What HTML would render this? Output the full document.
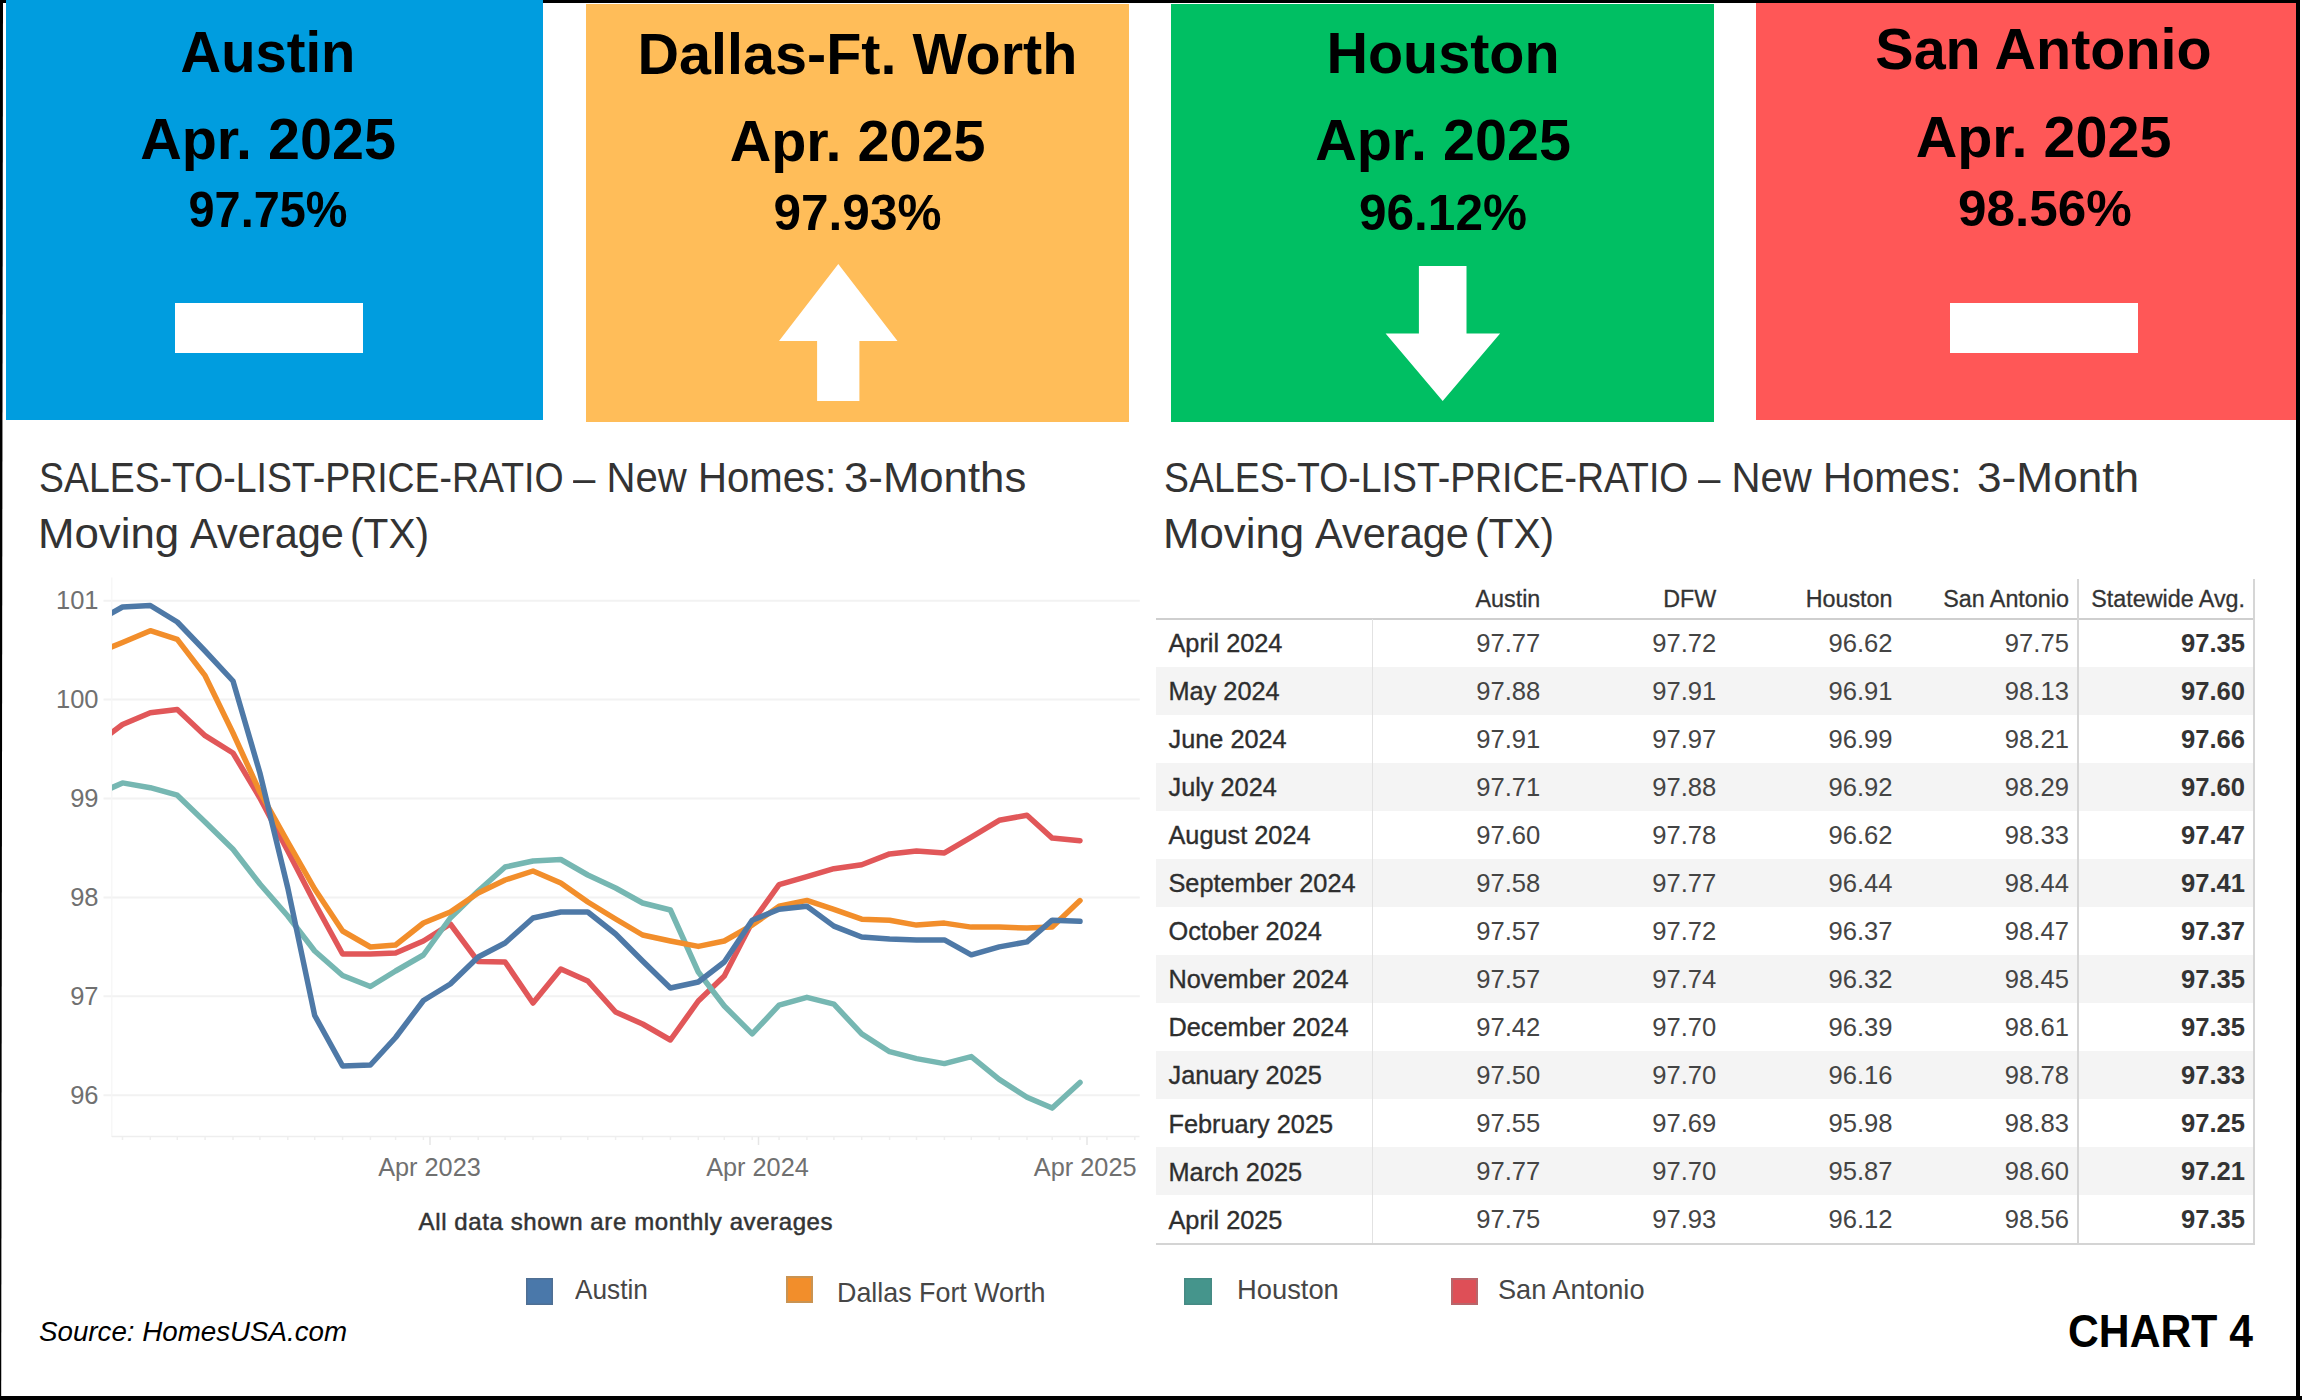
<!DOCTYPE html>
<html><head><meta charset="utf-8"><title>Chart 4</title>
<style>
*{margin:0;padding:0;box-sizing:border-box}
html,body{width:2302px;height:1400px;overflow:hidden;background:#fff}
body{position:relative;font-family:"Liberation Sans",sans-serif}
.a{position:absolute}
.t{position:absolute;white-space:nowrap;line-height:1}
</style></head><body>
<div class="a" style="left:0px;top:0px;width:2300px;height:3px;background:#000;"></div>
<div class="a" style="left:0;top:0;width:4px;height:1400px;background:#000;clip-path:polygon(0 0,3px 0,1.2px 100%,0 100%)"></div>
<div class="a" style="left:2296px;top:0px;width:4px;height:1400px;background:#000;"></div>
<div class="a" style="left:0px;top:1396px;width:2302px;height:4px;background:#000;"></div>
<div class="a" style="left:6px;top:0px;width:537px;height:420px;background:#009DDF;"></div>
<div class="a" style="left:586px;top:4px;width:543px;height:418px;background:#FFBD59;"></div>
<div class="a" style="left:1171px;top:4px;width:543px;height:418px;background:#00BF63;"></div>
<div class="a" style="left:1756px;top:3px;width:540px;height:417px;background:#FF5757;"></div>
<div class="t" style="left:38.0px;width:460px;text-align:center;top:24.2px;font-size:57.5px;font-weight:700;color:#000;font-style:normal;letter-spacing:0px;transform:scaleX(0.977);transform-origin:50% 0;">Austin</div>
<div class="t" style="left:38.0px;width:460px;text-align:center;top:110.6px;font-size:57.5px;font-weight:700;color:#000;font-style:normal;letter-spacing:0px;transform-origin:50% 0;">Apr. 2025</div>
<div class="t" style="left:38.0px;width:460px;text-align:center;top:185.1px;font-size:49.5px;font-weight:700;color:#000;font-style:normal;letter-spacing:0px;transform:scaleX(0.946);transform-origin:50% 0;">97.75%</div>
<div class="t" style="left:627.5px;width:460px;text-align:center;top:25.5px;font-size:57.5px;font-weight:700;color:#000;font-style:normal;letter-spacing:0px;transform-origin:50% 0;">Dallas-Ft. Worth</div>
<div class="t" style="left:627.5px;width:460px;text-align:center;top:113.1px;font-size:57.5px;font-weight:700;color:#000;font-style:normal;letter-spacing:0px;transform-origin:50% 0;">Apr. 2025</div>
<div class="t" style="left:627.5px;width:460px;text-align:center;top:187.6px;font-size:49.5px;font-weight:700;color:#000;font-style:normal;letter-spacing:0px;transform-origin:50% 0;">97.93%</div>
<div class="t" style="left:1213.0px;width:460px;text-align:center;top:25.2px;font-size:57.5px;font-weight:700;color:#000;font-style:normal;letter-spacing:0px;transform-origin:50% 0;">Houston</div>
<div class="t" style="left:1213.0px;width:460px;text-align:center;top:112.3px;font-size:57.5px;font-weight:700;color:#000;font-style:normal;letter-spacing:0px;transform-origin:50% 0;">Apr. 2025</div>
<div class="t" style="left:1213.0px;width:460px;text-align:center;top:188.1px;font-size:49.5px;font-weight:700;color:#000;font-style:normal;letter-spacing:0px;transform-origin:50% 0;">96.12%</div>
<div class="t" style="left:1813.5px;width:460px;text-align:center;top:21.3px;font-size:57.5px;font-weight:700;color:#000;font-style:normal;letter-spacing:0px;transform-origin:50% 0;">San Antonio</div>
<div class="t" style="left:1813.5px;width:460px;text-align:center;top:108.7px;font-size:57.5px;font-weight:700;color:#000;font-style:normal;letter-spacing:0px;transform-origin:50% 0;">Apr. 2025</div>
<div class="t" style="left:1815.0px;width:460px;text-align:center;top:184.3px;font-size:49.5px;font-weight:700;color:#000;font-style:normal;letter-spacing:0px;transform:scaleX(1.035);transform-origin:50% 0;">98.56%</div>
<div class="a" style="left:175px;top:303px;width:187.5px;height:50px;background:#fff;"></div>
<div class="a" style="left:1950px;top:303px;width:188px;height:50px;background:#fff;"></div>
<svg class="a" style="left:0;top:0" width="2302" height="430"><polygon fill="#fff" points="838.3,264 897.5,341 859.4,341 859.4,401 817.1,401 817.1,341 779,341"/><polygon fill="#fff" points="1418.9,266 1466.5,266 1466.5,333.6 1500.1,333.6 1442.7,401 1385.6,333.6 1418.9,333.6"/></svg>
<div class="t" style="left:39.3px;top:456.2px;font-size:42.9px;font-weight:400;color:#333333;font-style:normal;letter-spacing:0px;transform:scaleX(0.8722);transform-origin:0 0;">SALES-TO-LIST-PRICE-RATIO</div>
<div class="t" style="left:573.0px;top:456.2px;font-size:42.9px;font-weight:400;color:#333333;font-style:normal;letter-spacing:0px;transform:scaleX(0.9357);transform-origin:0 0;">– New Homes:</div>
<div class="t" style="left:843.8px;top:456.2px;font-size:42.9px;font-weight:400;color:#333333;font-style:normal;letter-spacing:0px;transform:scaleX(1.0194);transform-origin:0 0;">3-Months</div>
<div class="t" style="left:38.0px;top:512.0px;font-size:42.9px;font-weight:400;color:#333333;font-style:normal;letter-spacing:0px;transform:scaleX(1.0212);transform-origin:0 0;">Moving</div>
<div class="t" style="left:189.7px;top:512.0px;font-size:42.9px;font-weight:400;color:#333333;font-style:normal;letter-spacing:0px;transform:scaleX(0.9682);transform-origin:0 0;">Average</div>
<div class="t" style="left:350.4px;top:512.0px;font-size:42.9px;font-weight:400;color:#333333;font-style:normal;letter-spacing:0px;transform:scaleX(0.9487);transform-origin:0 0;">(TX)</div>
<div class="t" style="left:1164.3px;top:456.2px;font-size:42.9px;font-weight:400;color:#333333;font-style:normal;letter-spacing:0px;transform:scaleX(0.872);transform-origin:0 0;">SALES-TO-LIST-PRICE-RATIO</div>
<div class="t" style="left:1697.7px;top:456.2px;font-size:42.9px;font-weight:400;color:#333333;font-style:normal;letter-spacing:0px;transform:scaleX(0.9365);transform-origin:0 0;">– New Homes:</div>
<div class="t" style="left:1976.7px;top:456.2px;font-size:42.9px;font-weight:400;color:#333333;font-style:normal;letter-spacing:0px;transform:scaleX(1.0307);transform-origin:0 0;">3-Month</div>
<div class="t" style="left:1163.0px;top:512.0px;font-size:42.9px;font-weight:400;color:#333333;font-style:normal;letter-spacing:0px;transform:scaleX(1.0212);transform-origin:0 0;">Moving</div>
<div class="t" style="left:1314.7px;top:512.0px;font-size:42.9px;font-weight:400;color:#333333;font-style:normal;letter-spacing:0px;transform:scaleX(0.9682);transform-origin:0 0;">Average</div>
<div class="t" style="left:1475.4px;top:512.0px;font-size:42.9px;font-weight:400;color:#333333;font-style:normal;letter-spacing:0px;transform:scaleX(0.9487);transform-origin:0 0;">(TX)</div>
<svg class="a" style="left:0;top:0" width="1160" height="1250"><defs><clipPath id="cp"><rect x="112" y="560" width="1040" height="600"/></clipPath></defs><line x1="103.5" y1="600.8" x2="1139.8" y2="600.8" stroke="#f2f2f2" stroke-width="2"/><line x1="103.5" y1="699.6" x2="1139.8" y2="699.6" stroke="#f2f2f2" stroke-width="2"/><line x1="103.5" y1="798.5" x2="1139.8" y2="798.5" stroke="#f2f2f2" stroke-width="2"/><line x1="103.5" y1="897.4" x2="1139.8" y2="897.4" stroke="#f2f2f2" stroke-width="2"/><line x1="103.5" y1="996.3" x2="1139.8" y2="996.3" stroke="#f2f2f2" stroke-width="2"/><line x1="103.5" y1="1095.2" x2="1139.8" y2="1095.2" stroke="#f2f2f2" stroke-width="2"/><line x1="111.8" y1="577.5" x2="111.8" y2="1137" stroke="#f5f5f5" stroke-width="1.2"/><line x1="111.8" y1="1136.5" x2="1139.5" y2="1136.5" stroke="#eeeeee" stroke-width="1.5"/><line x1="122.5" y1="1137" x2="122.5" y2="1140" stroke="#efefef" stroke-width="1.5"/><line x1="150.3" y1="1137" x2="150.3" y2="1140" stroke="#efefef" stroke-width="1.5"/><line x1="177.3" y1="1137" x2="177.3" y2="1140" stroke="#efefef" stroke-width="1.5"/><line x1="205.1" y1="1137" x2="205.1" y2="1140" stroke="#efefef" stroke-width="1.5"/><line x1="233.0" y1="1137" x2="233.0" y2="1140" stroke="#efefef" stroke-width="1.5"/><line x1="259.9" y1="1137" x2="259.9" y2="1140" stroke="#efefef" stroke-width="1.5"/><line x1="287.8" y1="1137" x2="287.8" y2="1140" stroke="#efefef" stroke-width="1.5"/><line x1="314.7" y1="1137" x2="314.7" y2="1140" stroke="#efefef" stroke-width="1.5"/><line x1="342.6" y1="1137" x2="342.6" y2="1140" stroke="#efefef" stroke-width="1.5"/><line x1="370.4" y1="1137" x2="370.4" y2="1140" stroke="#efefef" stroke-width="1.5"/><line x1="395.6" y1="1137" x2="395.6" y2="1140" stroke="#efefef" stroke-width="1.5"/><line x1="423.4" y1="1137" x2="423.4" y2="1140" stroke="#efefef" stroke-width="1.5"/><line x1="450.3" y1="1137" x2="450.3" y2="1140" stroke="#efefef" stroke-width="1.5"/><line x1="478.2" y1="1137" x2="478.2" y2="1140" stroke="#efefef" stroke-width="1.5"/><line x1="505.1" y1="1137" x2="505.1" y2="1140" stroke="#efefef" stroke-width="1.5"/><line x1="533.0" y1="1137" x2="533.0" y2="1140" stroke="#efefef" stroke-width="1.5"/><line x1="560.8" y1="1137" x2="560.8" y2="1140" stroke="#efefef" stroke-width="1.5"/><line x1="587.8" y1="1137" x2="587.8" y2="1140" stroke="#efefef" stroke-width="1.5"/><line x1="615.6" y1="1137" x2="615.6" y2="1140" stroke="#efefef" stroke-width="1.5"/><line x1="642.6" y1="1137" x2="642.6" y2="1140" stroke="#efefef" stroke-width="1.5"/><line x1="670.4" y1="1137" x2="670.4" y2="1140" stroke="#efefef" stroke-width="1.5"/><line x1="698.3" y1="1137" x2="698.3" y2="1140" stroke="#efefef" stroke-width="1.5"/><line x1="724.3" y1="1137" x2="724.3" y2="1140" stroke="#efefef" stroke-width="1.5"/><line x1="752.2" y1="1137" x2="752.2" y2="1140" stroke="#efefef" stroke-width="1.5"/><line x1="779.1" y1="1137" x2="779.1" y2="1140" stroke="#efefef" stroke-width="1.5"/><line x1="806.9" y1="1137" x2="806.9" y2="1140" stroke="#efefef" stroke-width="1.5"/><line x1="833.9" y1="1137" x2="833.9" y2="1140" stroke="#efefef" stroke-width="1.5"/><line x1="861.7" y1="1137" x2="861.7" y2="1140" stroke="#efefef" stroke-width="1.5"/><line x1="889.6" y1="1137" x2="889.6" y2="1140" stroke="#efefef" stroke-width="1.5"/><line x1="916.5" y1="1137" x2="916.5" y2="1140" stroke="#efefef" stroke-width="1.5"/><line x1="944.4" y1="1137" x2="944.4" y2="1140" stroke="#efefef" stroke-width="1.5"/><line x1="971.3" y1="1137" x2="971.3" y2="1140" stroke="#efefef" stroke-width="1.5"/><line x1="999.2" y1="1137" x2="999.2" y2="1140" stroke="#efefef" stroke-width="1.5"/><line x1="1027.0" y1="1137" x2="1027.0" y2="1140" stroke="#efefef" stroke-width="1.5"/><line x1="1052.2" y1="1137" x2="1052.2" y2="1140" stroke="#efefef" stroke-width="1.5"/><line x1="1080.0" y1="1137" x2="1080.0" y2="1140" stroke="#efefef" stroke-width="1.5"/><line x1="1106.9" y1="1137" x2="1106.9" y2="1140" stroke="#efefef" stroke-width="1.5"/><line x1="1134.8" y1="1137" x2="1134.8" y2="1140" stroke="#efefef" stroke-width="1.5"/><line x1="430" y1="1137" x2="430" y2="1145" stroke="#e6e6e6" stroke-width="1.5"/><line x1="758.5" y1="1137" x2="758.5" y2="1145" stroke="#e6e6e6" stroke-width="1.5"/><line x1="1087" y1="1137" x2="1087" y2="1145" stroke="#e6e6e6" stroke-width="1.5"/><g clip-path="url(#cp)" fill="none" stroke-width="5.5" stroke-linejoin="round" stroke-linecap="round"><polyline stroke="#E15759" points="95.6,744.7 122.5,724.5 150.3,712.7 177.3,709.5 205.1,735.7 233.0,753.0 259.9,798.0 287.8,851.0 314.7,903.0 342.6,954.0 370.4,954.0 395.6,953.0 423.4,941.0 450.3,924.0 478.2,961.6 505.1,962.0 533.0,1003.0 560.8,969.0 587.8,981.0 615.6,1012.0 642.6,1024.0 670.4,1040.0 698.3,1001.0 724.3,976.0 752.2,922.1 779.1,884.6 806.9,876.7 833.9,868.7 861.7,864.8 889.6,853.9 916.5,850.9 944.4,852.9 971.3,837.1 999.2,820.3 1027.0,815.3 1052.2,838.1 1080.0,840.8"/><polyline stroke="#76B7B2" points="95.6,795.0 122.5,782.9 150.3,787.7 177.3,795.2 205.1,822.0 233.0,849.3 259.9,884.0 287.8,916.0 314.7,951.0 342.6,975.5 370.4,986.5 395.6,971.0 423.4,955.0 450.3,918.0 478.2,891.0 505.1,867.0 533.0,861.0 560.8,859.5 587.8,875.0 615.6,888.0 642.6,903.0 670.4,910.0 698.3,972.0 724.3,1006.0 752.2,1033.9 779.1,1005.2 806.9,997.3 833.9,1004.2 861.7,1033.9 889.6,1051.7 916.5,1058.6 944.4,1063.6 971.3,1056.6 999.2,1079.4 1027.0,1097.2 1052.2,1108.1 1080.0,1082.4"/><polyline stroke="#F28E2B" points="95.6,653.4 122.5,642.5 150.3,630.7 177.3,639.3 205.1,675.7 233.0,733.0 259.9,792.0 287.8,842.0 314.7,889.0 342.6,931.0 370.4,947.0 395.6,945.0 423.4,923.0 450.3,912.0 478.2,893.0 505.1,880.0 533.0,871.0 560.8,883.0 587.8,902.0 615.6,919.0 642.6,935.0 670.4,941.0 698.3,946.4 724.3,941.0 752.2,925.1 779.1,906.3 806.9,900.4 833.9,909.3 861.7,919.2 889.6,920.2 916.5,925.1 944.4,923.1 971.3,927.1 999.2,927.1 1027.0,928.1 1052.2,927.1 1080.0,900.6"/><polyline stroke="#4E79A7" points="95.6,622.0 122.5,607.0 150.3,605.5 177.3,622.0 205.1,651.0 233.0,681.0 259.9,773.0 287.8,888.0 314.7,1015.5 342.6,1066.0 370.4,1065.0 395.6,1037.5 423.4,1000.5 450.3,984.0 478.2,957.0 505.1,943.0 533.0,918.0 560.8,912.0 587.8,912.0 615.6,934.0 642.6,961.0 670.4,988.0 698.3,982.0 724.3,962.0 752.2,920.2 779.1,909.3 806.9,906.3 833.9,926.1 861.7,937.0 889.6,939.0 916.5,939.9 944.4,939.9 971.3,954.8 999.2,946.9 1027.0,941.9 1052.2,920.2 1080.0,921.3"/></g></svg>
<div class="t" style="left:-1101.5px;width:1200px;text-align:right;top:588.1px;font-size:25.5px;font-weight:400;color:#707070;font-style:normal;letter-spacing:0px;transform-origin:100% 0;">101</div>
<div class="t" style="left:-1101.5px;width:1200px;text-align:right;top:686.9px;font-size:25.5px;font-weight:400;color:#707070;font-style:normal;letter-spacing:0px;transform-origin:100% 0;">100</div>
<div class="t" style="left:-1101.5px;width:1200px;text-align:right;top:785.8px;font-size:25.5px;font-weight:400;color:#707070;font-style:normal;letter-spacing:0px;transform-origin:100% 0;">99</div>
<div class="t" style="left:-1101.5px;width:1200px;text-align:right;top:884.7px;font-size:25.5px;font-weight:400;color:#707070;font-style:normal;letter-spacing:0px;transform-origin:100% 0;">98</div>
<div class="t" style="left:-1101.5px;width:1200px;text-align:right;top:983.6px;font-size:25.5px;font-weight:400;color:#707070;font-style:normal;letter-spacing:0px;transform-origin:100% 0;">97</div>
<div class="t" style="left:-1101.5px;width:1200px;text-align:right;top:1082.5px;font-size:25.5px;font-weight:400;color:#707070;font-style:normal;letter-spacing:0px;transform-origin:100% 0;">96</div>
<div class="t" style="left:199.5px;width:460px;text-align:center;top:1154.6px;font-size:25.3px;font-weight:400;color:#707070;font-style:normal;letter-spacing:0px;transform-origin:50% 0;">Apr 2023</div>
<div class="t" style="left:527.5px;width:460px;text-align:center;top:1154.6px;font-size:25.3px;font-weight:400;color:#707070;font-style:normal;letter-spacing:0px;transform-origin:50% 0;">Apr 2024</div>
<div class="t" style="left:855.2px;width:460px;text-align:center;top:1154.6px;font-size:25.3px;font-weight:400;color:#707070;font-style:normal;letter-spacing:0px;transform-origin:50% 0;">Apr 2025</div>
<div class="t" style="left:395.9px;width:460px;text-align:center;top:1209.8px;font-size:24px;font-weight:400;color:#333;font-style:normal;letter-spacing:0.6px;transform-origin:50% 0;-webkit-text-stroke:0.5px #333;">All data shown are monthly averages</div>
<div class="a" style="left:526px;top:1278px;width:27px;height:27px;background:#4A78AA;box-shadow:inset 0 0 0 1.5px #4f6f93;"></div>
<div class="a" style="left:786px;top:1276px;width:27px;height:27px;background:#F28E2B;box-shadow:inset 0 0 0 2px #c99352;"></div>
<div class="a" style="left:1184px;top:1278px;width:27.5px;height:27px;background:#45958C;box-shadow:inset 0 0 0 1.5px #468a84;"></div>
<div class="a" style="left:1451px;top:1278px;width:27px;height:27px;background:#DE4F57;box-shadow:inset 0 0 0 2px #b7666b;"></div>
<div class="t" style="left:575.0px;top:1275.0px;font-size:28.5px;font-weight:400;color:#464646;font-style:normal;letter-spacing:0px;transform:scaleX(0.92);transform-origin:0 0;">Austin</div>
<div class="t" style="left:837.0px;top:1277.6px;font-size:28.5px;font-weight:400;color:#464646;font-style:normal;letter-spacing:0px;transform:scaleX(0.942);transform-origin:0 0;">Dallas Fort Worth</div>
<div class="t" style="left:1237.0px;top:1274.9px;font-size:28.5px;font-weight:400;color:#464646;font-style:normal;letter-spacing:0px;transform:scaleX(0.959);transform-origin:0 0;">Houston</div>
<div class="t" style="left:1498.0px;top:1274.9px;font-size:28.5px;font-weight:400;color:#464646;font-style:normal;letter-spacing:0px;transform:scaleX(0.953);transform-origin:0 0;">San Antonio</div>
<div class="t" style="left:39.0px;top:1317.5px;font-size:28px;font-weight:400;color:#000;font-style:italic;letter-spacing:0px;transform:scaleX(0.99);transform-origin:0 0;">Source: HomesUSA.com</div>
<div class="t" style="left:2068.0px;top:1309.0px;font-size:45.8px;font-weight:700;color:#000;font-style:normal;letter-spacing:0px;transform:scaleX(0.932);transform-origin:0 0;">CHART 4</div>
<div class="a" style="left:1156px;top:666.6px;width:1097.5px;height:48.10000000000002px;background:#f4f4f4;"></div>
<div class="a" style="left:1156px;top:762.8px;width:1097.5px;height:48.0px;background:#f4f4f4;"></div>
<div class="a" style="left:1156px;top:858.9px;width:1097.5px;height:48.0px;background:#f4f4f4;"></div>
<div class="a" style="left:1156px;top:955.0px;width:1097.5px;height:48.0px;background:#f4f4f4;"></div>
<div class="a" style="left:1156px;top:1051.0px;width:1097.5px;height:48.09999999999991px;background:#f4f4f4;"></div>
<div class="a" style="left:1156px;top:1147.2px;width:1097.5px;height:48.0px;background:#f4f4f4;"></div>
<div class="a" style="left:1156px;top:617.8px;width:1098.5px;height:2.0px;background:#cfcfcf;"></div>
<div class="a" style="left:1156px;top:1242.5px;width:1098.5px;height:2.0px;background:#d4d4d4;"></div>
<div class="a" style="left:1371.8px;top:619px;width:1.0px;height:624px;background:#e2e2e2;"></div>
<div class="a" style="left:2077px;top:578.5px;width:2px;height:664.5px;background:#d6d6d6;"></div>
<div class="a" style="left:2252.5px;top:578.5px;width:2.0px;height:664.5px;background:#d6d6d6;"></div>
<div class="t" style="left:340.3px;width:1200px;text-align:right;top:587.6px;font-size:23.3px;font-weight:400;color:#333;font-style:normal;letter-spacing:0px;transform-origin:100% 0;-webkit-text-stroke:0.3px #333;">Austin</div>
<div class="t" style="left:516.3px;width:1200px;text-align:right;top:587.6px;font-size:23.3px;font-weight:400;color:#333;font-style:normal;letter-spacing:0px;transform-origin:100% 0;-webkit-text-stroke:0.3px #333;">DFW</div>
<div class="t" style="left:692.5px;width:1200px;text-align:right;top:587.6px;font-size:23.3px;font-weight:400;color:#333;font-style:normal;letter-spacing:0px;transform-origin:100% 0;-webkit-text-stroke:0.3px #333;">Houston</div>
<div class="t" style="left:868.9px;width:1200px;text-align:right;top:587.6px;font-size:23.3px;font-weight:400;color:#333;font-style:normal;letter-spacing:0px;transform-origin:100% 0;-webkit-text-stroke:0.3px #333;">San Antonio</div>
<div class="t" style="left:1045.0px;width:1200px;text-align:right;top:587.6px;font-size:23.3px;font-weight:400;color:#333;font-style:normal;letter-spacing:0px;transform-origin:100% 0;-webkit-text-stroke:0.3px #333;">Statewide Avg.</div>
<div class="t" style="left:1168.5px;top:631.0px;font-size:25.3px;font-weight:400;color:#2e2e2e;font-style:normal;letter-spacing:0px;transform-origin:0 0;-webkit-text-stroke:0.35px #2e2e2e;">April 2024</div>
<div class="t" style="left:340.3px;width:1200px;text-align:right;top:630.7px;font-size:25.6px;font-weight:400;color:#444;font-style:normal;letter-spacing:0px;transform-origin:100% 0;">97.77</div>
<div class="t" style="left:516.3px;width:1200px;text-align:right;top:630.7px;font-size:25.6px;font-weight:400;color:#444;font-style:normal;letter-spacing:0px;transform-origin:100% 0;">97.72</div>
<div class="t" style="left:692.5px;width:1200px;text-align:right;top:630.7px;font-size:25.6px;font-weight:400;color:#444;font-style:normal;letter-spacing:0px;transform-origin:100% 0;">96.62</div>
<div class="t" style="left:868.9px;width:1200px;text-align:right;top:630.7px;font-size:25.6px;font-weight:400;color:#444;font-style:normal;letter-spacing:0px;transform-origin:100% 0;">97.75</div>
<div class="t" style="left:1045.0px;width:1200px;text-align:right;top:630.7px;font-size:25.6px;font-weight:700;color:#333;font-style:normal;letter-spacing:0px;transform-origin:100% 0;">97.35</div>
<div class="t" style="left:1168.5px;top:679.0px;font-size:25.3px;font-weight:400;color:#2e2e2e;font-style:normal;letter-spacing:0px;transform-origin:0 0;-webkit-text-stroke:0.35px #2e2e2e;">May 2024</div>
<div class="t" style="left:340.3px;width:1200px;text-align:right;top:678.8px;font-size:25.6px;font-weight:400;color:#444;font-style:normal;letter-spacing:0px;transform-origin:100% 0;">97.88</div>
<div class="t" style="left:516.3px;width:1200px;text-align:right;top:678.8px;font-size:25.6px;font-weight:400;color:#444;font-style:normal;letter-spacing:0px;transform-origin:100% 0;">97.91</div>
<div class="t" style="left:692.5px;width:1200px;text-align:right;top:678.8px;font-size:25.6px;font-weight:400;color:#444;font-style:normal;letter-spacing:0px;transform-origin:100% 0;">96.91</div>
<div class="t" style="left:868.9px;width:1200px;text-align:right;top:678.8px;font-size:25.6px;font-weight:400;color:#444;font-style:normal;letter-spacing:0px;transform-origin:100% 0;">98.13</div>
<div class="t" style="left:1045.0px;width:1200px;text-align:right;top:678.8px;font-size:25.6px;font-weight:700;color:#333;font-style:normal;letter-spacing:0px;transform-origin:100% 0;">97.60</div>
<div class="t" style="left:1168.5px;top:727.1px;font-size:25.3px;font-weight:400;color:#2e2e2e;font-style:normal;letter-spacing:0px;transform-origin:0 0;-webkit-text-stroke:0.35px #2e2e2e;">June 2024</div>
<div class="t" style="left:340.3px;width:1200px;text-align:right;top:726.8px;font-size:25.6px;font-weight:400;color:#444;font-style:normal;letter-spacing:0px;transform-origin:100% 0;">97.91</div>
<div class="t" style="left:516.3px;width:1200px;text-align:right;top:726.8px;font-size:25.6px;font-weight:400;color:#444;font-style:normal;letter-spacing:0px;transform-origin:100% 0;">97.97</div>
<div class="t" style="left:692.5px;width:1200px;text-align:right;top:726.8px;font-size:25.6px;font-weight:400;color:#444;font-style:normal;letter-spacing:0px;transform-origin:100% 0;">96.99</div>
<div class="t" style="left:868.9px;width:1200px;text-align:right;top:726.8px;font-size:25.6px;font-weight:400;color:#444;font-style:normal;letter-spacing:0px;transform-origin:100% 0;">98.21</div>
<div class="t" style="left:1045.0px;width:1200px;text-align:right;top:726.8px;font-size:25.6px;font-weight:700;color:#333;font-style:normal;letter-spacing:0px;transform-origin:100% 0;">97.66</div>
<div class="t" style="left:1168.5px;top:775.1px;font-size:25.3px;font-weight:400;color:#2e2e2e;font-style:normal;letter-spacing:0px;transform-origin:0 0;-webkit-text-stroke:0.35px #2e2e2e;">July 2024</div>
<div class="t" style="left:340.3px;width:1200px;text-align:right;top:774.9px;font-size:25.6px;font-weight:400;color:#444;font-style:normal;letter-spacing:0px;transform-origin:100% 0;">97.71</div>
<div class="t" style="left:516.3px;width:1200px;text-align:right;top:774.9px;font-size:25.6px;font-weight:400;color:#444;font-style:normal;letter-spacing:0px;transform-origin:100% 0;">97.88</div>
<div class="t" style="left:692.5px;width:1200px;text-align:right;top:774.9px;font-size:25.6px;font-weight:400;color:#444;font-style:normal;letter-spacing:0px;transform-origin:100% 0;">96.92</div>
<div class="t" style="left:868.9px;width:1200px;text-align:right;top:774.9px;font-size:25.6px;font-weight:400;color:#444;font-style:normal;letter-spacing:0px;transform-origin:100% 0;">98.29</div>
<div class="t" style="left:1045.0px;width:1200px;text-align:right;top:774.9px;font-size:25.6px;font-weight:700;color:#333;font-style:normal;letter-spacing:0px;transform-origin:100% 0;">97.60</div>
<div class="t" style="left:1168.5px;top:823.2px;font-size:25.3px;font-weight:400;color:#2e2e2e;font-style:normal;letter-spacing:0px;transform-origin:0 0;-webkit-text-stroke:0.35px #2e2e2e;">August 2024</div>
<div class="t" style="left:340.3px;width:1200px;text-align:right;top:822.9px;font-size:25.6px;font-weight:400;color:#444;font-style:normal;letter-spacing:0px;transform-origin:100% 0;">97.60</div>
<div class="t" style="left:516.3px;width:1200px;text-align:right;top:822.9px;font-size:25.6px;font-weight:400;color:#444;font-style:normal;letter-spacing:0px;transform-origin:100% 0;">97.78</div>
<div class="t" style="left:692.5px;width:1200px;text-align:right;top:822.9px;font-size:25.6px;font-weight:400;color:#444;font-style:normal;letter-spacing:0px;transform-origin:100% 0;">96.62</div>
<div class="t" style="left:868.9px;width:1200px;text-align:right;top:822.9px;font-size:25.6px;font-weight:400;color:#444;font-style:normal;letter-spacing:0px;transform-origin:100% 0;">98.33</div>
<div class="t" style="left:1045.0px;width:1200px;text-align:right;top:822.9px;font-size:25.6px;font-weight:700;color:#333;font-style:normal;letter-spacing:0px;transform-origin:100% 0;">97.47</div>
<div class="t" style="left:1168.5px;top:871.2px;font-size:25.3px;font-weight:400;color:#2e2e2e;font-style:normal;letter-spacing:0px;transform-origin:0 0;-webkit-text-stroke:0.35px #2e2e2e;">September 2024</div>
<div class="t" style="left:340.3px;width:1200px;text-align:right;top:871.0px;font-size:25.6px;font-weight:400;color:#444;font-style:normal;letter-spacing:0px;transform-origin:100% 0;">97.58</div>
<div class="t" style="left:516.3px;width:1200px;text-align:right;top:871.0px;font-size:25.6px;font-weight:400;color:#444;font-style:normal;letter-spacing:0px;transform-origin:100% 0;">97.77</div>
<div class="t" style="left:692.5px;width:1200px;text-align:right;top:871.0px;font-size:25.6px;font-weight:400;color:#444;font-style:normal;letter-spacing:0px;transform-origin:100% 0;">96.44</div>
<div class="t" style="left:868.9px;width:1200px;text-align:right;top:871.0px;font-size:25.6px;font-weight:400;color:#444;font-style:normal;letter-spacing:0px;transform-origin:100% 0;">98.44</div>
<div class="t" style="left:1045.0px;width:1200px;text-align:right;top:871.0px;font-size:25.6px;font-weight:700;color:#333;font-style:normal;letter-spacing:0px;transform-origin:100% 0;">97.41</div>
<div class="t" style="left:1168.5px;top:919.3px;font-size:25.3px;font-weight:400;color:#2e2e2e;font-style:normal;letter-spacing:0px;transform-origin:0 0;-webkit-text-stroke:0.35px #2e2e2e;">October 2024</div>
<div class="t" style="left:340.3px;width:1200px;text-align:right;top:919.0px;font-size:25.6px;font-weight:400;color:#444;font-style:normal;letter-spacing:0px;transform-origin:100% 0;">97.57</div>
<div class="t" style="left:516.3px;width:1200px;text-align:right;top:919.0px;font-size:25.6px;font-weight:400;color:#444;font-style:normal;letter-spacing:0px;transform-origin:100% 0;">97.72</div>
<div class="t" style="left:692.5px;width:1200px;text-align:right;top:919.0px;font-size:25.6px;font-weight:400;color:#444;font-style:normal;letter-spacing:0px;transform-origin:100% 0;">96.37</div>
<div class="t" style="left:868.9px;width:1200px;text-align:right;top:919.0px;font-size:25.6px;font-weight:400;color:#444;font-style:normal;letter-spacing:0px;transform-origin:100% 0;">98.47</div>
<div class="t" style="left:1045.0px;width:1200px;text-align:right;top:919.0px;font-size:25.6px;font-weight:700;color:#333;font-style:normal;letter-spacing:0px;transform-origin:100% 0;">97.37</div>
<div class="t" style="left:1168.5px;top:967.3px;font-size:25.3px;font-weight:400;color:#2e2e2e;font-style:normal;letter-spacing:0px;transform-origin:0 0;-webkit-text-stroke:0.35px #2e2e2e;">November 2024</div>
<div class="t" style="left:340.3px;width:1200px;text-align:right;top:967.1px;font-size:25.6px;font-weight:400;color:#444;font-style:normal;letter-spacing:0px;transform-origin:100% 0;">97.57</div>
<div class="t" style="left:516.3px;width:1200px;text-align:right;top:967.1px;font-size:25.6px;font-weight:400;color:#444;font-style:normal;letter-spacing:0px;transform-origin:100% 0;">97.74</div>
<div class="t" style="left:692.5px;width:1200px;text-align:right;top:967.1px;font-size:25.6px;font-weight:400;color:#444;font-style:normal;letter-spacing:0px;transform-origin:100% 0;">96.32</div>
<div class="t" style="left:868.9px;width:1200px;text-align:right;top:967.1px;font-size:25.6px;font-weight:400;color:#444;font-style:normal;letter-spacing:0px;transform-origin:100% 0;">98.45</div>
<div class="t" style="left:1045.0px;width:1200px;text-align:right;top:967.1px;font-size:25.6px;font-weight:700;color:#333;font-style:normal;letter-spacing:0px;transform-origin:100% 0;">97.35</div>
<div class="t" style="left:1168.5px;top:1015.4px;font-size:25.3px;font-weight:400;color:#2e2e2e;font-style:normal;letter-spacing:0px;transform-origin:0 0;-webkit-text-stroke:0.35px #2e2e2e;">December 2024</div>
<div class="t" style="left:340.3px;width:1200px;text-align:right;top:1015.1px;font-size:25.6px;font-weight:400;color:#444;font-style:normal;letter-spacing:0px;transform-origin:100% 0;">97.42</div>
<div class="t" style="left:516.3px;width:1200px;text-align:right;top:1015.1px;font-size:25.6px;font-weight:400;color:#444;font-style:normal;letter-spacing:0px;transform-origin:100% 0;">97.70</div>
<div class="t" style="left:692.5px;width:1200px;text-align:right;top:1015.1px;font-size:25.6px;font-weight:400;color:#444;font-style:normal;letter-spacing:0px;transform-origin:100% 0;">96.39</div>
<div class="t" style="left:868.9px;width:1200px;text-align:right;top:1015.1px;font-size:25.6px;font-weight:400;color:#444;font-style:normal;letter-spacing:0px;transform-origin:100% 0;">98.61</div>
<div class="t" style="left:1045.0px;width:1200px;text-align:right;top:1015.1px;font-size:25.6px;font-weight:700;color:#333;font-style:normal;letter-spacing:0px;transform-origin:100% 0;">97.35</div>
<div class="t" style="left:1168.5px;top:1063.4px;font-size:25.3px;font-weight:400;color:#2e2e2e;font-style:normal;letter-spacing:0px;transform-origin:0 0;-webkit-text-stroke:0.35px #2e2e2e;">January 2025</div>
<div class="t" style="left:340.3px;width:1200px;text-align:right;top:1063.2px;font-size:25.6px;font-weight:400;color:#444;font-style:normal;letter-spacing:0px;transform-origin:100% 0;">97.50</div>
<div class="t" style="left:516.3px;width:1200px;text-align:right;top:1063.2px;font-size:25.6px;font-weight:400;color:#444;font-style:normal;letter-spacing:0px;transform-origin:100% 0;">97.70</div>
<div class="t" style="left:692.5px;width:1200px;text-align:right;top:1063.2px;font-size:25.6px;font-weight:400;color:#444;font-style:normal;letter-spacing:0px;transform-origin:100% 0;">96.16</div>
<div class="t" style="left:868.9px;width:1200px;text-align:right;top:1063.2px;font-size:25.6px;font-weight:400;color:#444;font-style:normal;letter-spacing:0px;transform-origin:100% 0;">98.78</div>
<div class="t" style="left:1045.0px;width:1200px;text-align:right;top:1063.2px;font-size:25.6px;font-weight:700;color:#333;font-style:normal;letter-spacing:0px;transform-origin:100% 0;">97.33</div>
<div class="t" style="left:1168.5px;top:1111.5px;font-size:25.3px;font-weight:400;color:#2e2e2e;font-style:normal;letter-spacing:0px;transform-origin:0 0;-webkit-text-stroke:0.35px #2e2e2e;">February 2025</div>
<div class="t" style="left:340.3px;width:1200px;text-align:right;top:1111.2px;font-size:25.6px;font-weight:400;color:#444;font-style:normal;letter-spacing:0px;transform-origin:100% 0;">97.55</div>
<div class="t" style="left:516.3px;width:1200px;text-align:right;top:1111.2px;font-size:25.6px;font-weight:400;color:#444;font-style:normal;letter-spacing:0px;transform-origin:100% 0;">97.69</div>
<div class="t" style="left:692.5px;width:1200px;text-align:right;top:1111.2px;font-size:25.6px;font-weight:400;color:#444;font-style:normal;letter-spacing:0px;transform-origin:100% 0;">95.98</div>
<div class="t" style="left:868.9px;width:1200px;text-align:right;top:1111.2px;font-size:25.6px;font-weight:400;color:#444;font-style:normal;letter-spacing:0px;transform-origin:100% 0;">98.83</div>
<div class="t" style="left:1045.0px;width:1200px;text-align:right;top:1111.2px;font-size:25.6px;font-weight:700;color:#333;font-style:normal;letter-spacing:0px;transform-origin:100% 0;">97.25</div>
<div class="t" style="left:1168.5px;top:1159.5px;font-size:25.3px;font-weight:400;color:#2e2e2e;font-style:normal;letter-spacing:0px;transform-origin:0 0;-webkit-text-stroke:0.35px #2e2e2e;">March 2025</div>
<div class="t" style="left:340.3px;width:1200px;text-align:right;top:1159.3px;font-size:25.6px;font-weight:400;color:#444;font-style:normal;letter-spacing:0px;transform-origin:100% 0;">97.77</div>
<div class="t" style="left:516.3px;width:1200px;text-align:right;top:1159.3px;font-size:25.6px;font-weight:400;color:#444;font-style:normal;letter-spacing:0px;transform-origin:100% 0;">97.70</div>
<div class="t" style="left:692.5px;width:1200px;text-align:right;top:1159.3px;font-size:25.6px;font-weight:400;color:#444;font-style:normal;letter-spacing:0px;transform-origin:100% 0;">95.87</div>
<div class="t" style="left:868.9px;width:1200px;text-align:right;top:1159.3px;font-size:25.6px;font-weight:400;color:#444;font-style:normal;letter-spacing:0px;transform-origin:100% 0;">98.60</div>
<div class="t" style="left:1045.0px;width:1200px;text-align:right;top:1159.3px;font-size:25.6px;font-weight:700;color:#333;font-style:normal;letter-spacing:0px;transform-origin:100% 0;">97.21</div>
<div class="t" style="left:1168.5px;top:1207.6px;font-size:25.3px;font-weight:400;color:#2e2e2e;font-style:normal;letter-spacing:0px;transform-origin:0 0;-webkit-text-stroke:0.35px #2e2e2e;">April 2025</div>
<div class="t" style="left:340.3px;width:1200px;text-align:right;top:1207.3px;font-size:25.6px;font-weight:400;color:#444;font-style:normal;letter-spacing:0px;transform-origin:100% 0;">97.75</div>
<div class="t" style="left:516.3px;width:1200px;text-align:right;top:1207.3px;font-size:25.6px;font-weight:400;color:#444;font-style:normal;letter-spacing:0px;transform-origin:100% 0;">97.93</div>
<div class="t" style="left:692.5px;width:1200px;text-align:right;top:1207.3px;font-size:25.6px;font-weight:400;color:#444;font-style:normal;letter-spacing:0px;transform-origin:100% 0;">96.12</div>
<div class="t" style="left:868.9px;width:1200px;text-align:right;top:1207.3px;font-size:25.6px;font-weight:400;color:#444;font-style:normal;letter-spacing:0px;transform-origin:100% 0;">98.56</div>
<div class="t" style="left:1045.0px;width:1200px;text-align:right;top:1207.3px;font-size:25.6px;font-weight:700;color:#333;font-style:normal;letter-spacing:0px;transform-origin:100% 0;">97.35</div>
</body></html>
